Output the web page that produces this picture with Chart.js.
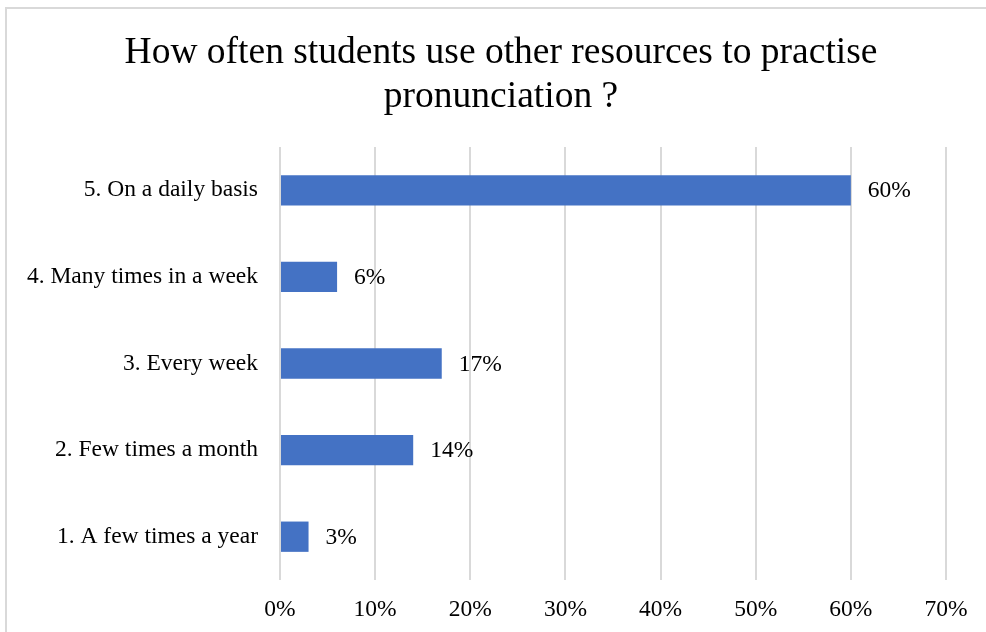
<!DOCTYPE html>
<html>
<head>
<meta charset="utf-8">
<script src="https://cdn.jsdelivr.net/npm/chart.js@4/dist/chart.umd.min.js"></script>
<style>
  html, body { margin: 0; padding: 0; background: #fff; }
  #wrap { position: relative; width: 986px; height: 632px; overflow: hidden; }
  #frame { position: absolute; left: 5px; top: 7px; width: 2000px; height: 2000px;
           border-left: 2px solid #d9d9d9; border-top: 2px solid #d9d9d9; pointer-events: none; }
  canvas { position: absolute; left: 0; top: 0; }
</style>
</head>
<body>
<div id="wrap">
  <canvas id="c" width="986" height="632"></canvas>
  <div id="frame"></div>
</div>
<script>
const titleLines = ["How often students use other resources to practise", "pronunciation ?"];
const categories = ["5. On a daily basis", "4. Many times in a week", "3. Every week", "2. Few times a month", "1. A few times a year"];
const values = [60, 6, 17, 14, 3];
const xTicks = [0, 10, 20, 30, 40, 50, 60, 70];

const serif = "'Liberation Serif', 'Times New Roman', serif";
const labelSize = 23.5;

const titleDraw = {
  id: 'titleDraw',
  afterDraw(chart) {
    const ctx = chart.ctx;
    ctx.save();
    ctx.font = "37.5px " + serif;
    ctx.fillStyle = "#000";
    ctx.textAlign = "center";
    ctx.textBaseline = "alphabetic";
    titleLines.forEach((t, i) => ctx.fillText(t, 501, 63 + i * 44));
    ctx.restore();
  }
};

const valueLabels = {
  id: 'valueLabels',
  afterDatasetsDraw(chart) {
    const ctx = chart.ctx;
    const meta = chart.getDatasetMeta(0);
    ctx.save();
    ctx.font = labelSize + "px " + serif;
    ctx.fillStyle = "#000";
    ctx.textAlign = "left";
    ctx.textBaseline = "middle";
    meta.data.forEach((bar, i) => {
      ctx.fillText(values[i] + "%", bar.x + 17, bar.y + 1);
    });
    ctx.restore();
  }
};

new Chart(document.getElementById('c'), {
  type: 'bar',
  data: {
    labels: categories,
    datasets: [{
      data: values,
      backgroundColor: '#4472C4',
      borderWidth: 0,
      categoryPercentage: 1,
      barPercentage: 0.35
    }]
  },
  options: {
    indexAxis: 'y',
    responsive: false,
    animation: false,
    layout: { padding: { left: 10, right: 40, top: 147, bottom: 0 } },
    plugins: {
      legend: { display: false },
      tooltip: { enabled: false },
      title: { display: false }
    },
    scales: {
      x: {
        min: 0, max: 70,
        afterBuildTicks(scale) { scale.ticks = xTicks.map(v => ({ value: v })); },
        afterFit(scale) { scale.height = 52; },
        grid: { color: '#d9d9d9', lineWidth: 2, drawTicks: false },
        border: { display: false },
        ticks: {
          color: '#000',
          font: { family: serif, size: labelSize },
          padding: 16,
          maxRotation: 0,
          callback: v => v + '%'
        }
      },
      y: {
        afterFit(scale) { scale.width = 270; },
        grid: { display: false, drawTicks: false },
        border: { display: false },
        ticks: {
          color: '#000',
          font: { family: serif, size: labelSize },
          padding: 22
        }
      }
    }
  },
  plugins: [valueLabels, titleDraw]
});
</script>
</body>
</html>
